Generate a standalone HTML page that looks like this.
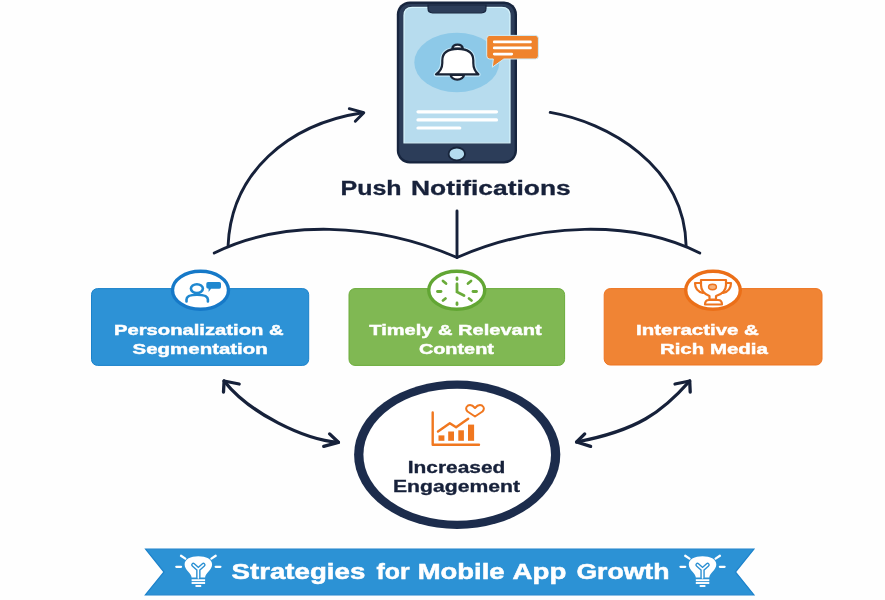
<!DOCTYPE html>
<html><head><meta charset="utf-8">
<style>
html,body{margin:0;padding:0;background:#fefefe;}
body{width:885px;height:600px;overflow:hidden;position:relative;}
svg{position:absolute;left:0;top:0;filter:blur(0.35px);}
text{font-family:"Liberation Sans",sans-serif;font-weight:700;}
</style></head>
<body>
<svg width="885" height="600" viewBox="0 0 885 600">
<!-- ===== PHONE ===== -->
<g id="phone">
  <rect x="396.8" y="1.5" width="120.2" height="162.1" rx="13" fill="#17253e"/>
  <rect x="399.2" y="3.9" width="115.4" height="157.3" rx="10.6" fill="#2c3d59"/>
  <path d="M403,143.8 V15.4 Q403,6.4 412,6.4 H502 Q511,6.4 511,15.4 V143.8 Z" fill="#1a2842"/>
  <path d="M404,142.8 V15.6 Q404,7.4 412.2,7.4 H501.8 Q510,7.4 510,15.6 V142.8 Z" fill="#b7dcee" stroke="#d6f4fd" stroke-width="1.3"/>
  <path d="M428,5 H486 V8.2 Q486,12.8 481.4,12.8 H432.6 Q428,12.8 428,8.2 Z" fill="#2c3d59" stroke="#18263f" stroke-width="1.2"/>
  <!-- bell ellipse -->
  <ellipse cx="456.8" cy="62.5" rx="42.5" ry="29.8" fill="#8dc9e8"/>
  <!-- bell -->
  <g stroke="#d4f1fc" stroke-width="4.5" fill="none" stroke-linejoin="round" opacity="0.8">
    <path d="M436,74.4 L478.4,74.4 Q473.3,70 473.3,63 V60.5 C473.3,52.5 467,48.9 457.8,48.9 C448.5,48.9 442.3,52.5 442.3,60.5 V63 Q442.3,70 436,74.4 Z"/>
  </g>
  <g stroke="#1a2436" stroke-width="2.2" fill="#ffffff" stroke-linejoin="round">
    <path d="M450.6,74.8 A6.7,4.8 0 0 0 464,74.8 Z"/>
    <path d="M452.2,48.6 A5.4,4.6 0 0 1 462.9,48.6 Z"/>
    <path d="M436,74.4 L478.4,74.4 Q473.3,70 473.3,63 V60.5 C473.3,52.5 467,48.9 457.8,48.9 C448.5,48.9 442.3,52.5 442.3,60.5 V63 Q442.3,70 436,74.4 Z"/>
  </g>
  <!-- text lines -->
  <g stroke="#ffffff" stroke-width="3.2" stroke-linecap="round">
    <line x1="418" y1="111.8" x2="496.5" y2="111.8"/>
    <line x1="418" y1="119.9" x2="496.5" y2="119.9"/>
    <line x1="418" y1="128" x2="459.8" y2="128"/>
  </g>
  <!-- home button -->
  <ellipse cx="456.8" cy="153.9" rx="8.2" ry="6.4" fill="#b4dbee" stroke="#17243a" stroke-width="1.8"/>
  <!-- chat bubble -->
  <path d="M489.8,35.4 H535.3 Q538.4,35.4 538.4,38.5 V55.9 Q538.4,59 535.3,59 H503.8 L492.3,67.2 L493.3,59 H489.8 Q486.7,59 486.7,55.9 V38.5 Q486.7,35.4 489.8,35.4 Z" fill="#ef832c" stroke="#cfeefb" stroke-width="1"/>
  <g stroke="#ffffff" stroke-width="2.6" stroke-linecap="round">
    <line x1="494.2" y1="41.9" x2="530.5" y2="41.9"/>
    <line x1="494.2" y1="47.9" x2="530.5" y2="47.9"/>
    <line x1="494.2" y1="54.1" x2="511.8" y2="54.1"/>
  </g>
</g>

<!-- ===== PUSH NOTIFICATIONS ===== -->
<g font-size="19.6" fill="#17213a" stroke="#17213a" stroke-width="0.3">
  <text id="p1" x="340.50" y="194.7" textLength="61.10" lengthAdjust="spacingAndGlyphs">Push</text>
  <text id="p2" x="411.00" y="194.7" textLength="159.70" lengthAdjust="spacingAndGlyphs">Notifications</text>
</g>

<!-- ===== CURVES ===== -->
<g fill="none" stroke="#16213a" stroke-width="2.9" stroke-linecap="round" stroke-linejoin="round">
  <line x1="457" y1="211" x2="457" y2="257"/>
  <path d="M214.25,253 C280.4,219.9 374.1,221.5 457,257.5"/>
  <path d="M699.75,253 C633.6,219.9 539.9,221.5 457,257.5"/>
  <path d="M228.1,245.5 C231.2,173.2 287.6,124.2 362.5,112.8"/>
  <path d="M349.3,108.7 L363.8,112.7 L355.3,121.3"/>
  <path d="M550.2,112.4 C606.5,122 684.5,164.7 686.1,245.8"/>
</g>
<g fill="none" stroke="#16213a" stroke-width="3.3" stroke-linecap="round" stroke-linejoin="round">
  <path d="M224.1,381 C249.1,413.3 304.8,439.9 338.4,442.3"/>
  <path d="M239.2,384 L224.1,381 L223.5,392"/>
  <path d="M329.6,433.9 L338.4,442.3 L323.7,446.4"/>
  <path d="M689.7,381 C662.3,412 637.7,430.4 576.6,442"/>
  <path d="M675,384 L689.7,381 L690.2,392"/>
  <path d="M584.7,433.9 L576.6,442 L590.6,446.4"/>
</g>

<!-- ===== BOXES ===== -->
<rect x="91.5" y="288.6" width="217.2" height="76.8" rx="6" fill="#2d92d6" stroke="#1b82cb" stroke-width="1"/>
<rect x="349" y="288.6" width="215.6" height="76.8" rx="6" fill="#80b853" stroke="#6cad3c" stroke-width="1"/>
<rect x="604.2" y="288.6" width="217.8" height="76.4" rx="6" fill="#f08434" stroke="#ee7420" stroke-width="1"/>

<!-- icon circles -->
<ellipse cx="200.5" cy="290.25" rx="28" ry="19" fill="#ffffff" stroke="#1679c8" stroke-width="3.4"/>
<ellipse cx="456.75" cy="290.25" rx="28" ry="19" fill="#ffffff" stroke="#62a634" stroke-width="3.4"/>
<ellipse cx="713" cy="290.25" rx="27.3" ry="19" fill="#ffffff" stroke="#eb6f18" stroke-width="3.4"/>

<!-- person icon -->
<g fill="none" stroke="#1f88d0" stroke-width="2.6" stroke-linecap="round">
  <ellipse cx="196.9" cy="288.6" rx="6" ry="4.4"/>
  <path d="M186.5,301.5 V299.5 Q186.5,294.8 197,294.8 Q207.9,294.8 207.9,299.5 V301.5"/>
</g>
<path d="M208,282 H219.3 Q221,282 221,283.7 V287 Q221,288.7 219.3,288.7 H211 L208.6,292 L208.6,288.7 Q206.3,288.7 206.3,287 V283.7 Q206.3,282 208,282 Z" fill="#1f88d0"/>

<!-- clock icon -->
<g stroke="#6aab3a" stroke-width="2.8" stroke-linecap="round" fill="none">
  <line x1="457" y1="278" x2="457" y2="279.5"/>
  <line x1="457" y1="303" x2="457" y2="304.5"/>
  <line x1="437.5" y1="291.5" x2="441" y2="291.5"/>
  <line x1="473" y1="291.5" x2="476.5" y2="291.5"/>
  <line x1="443" y1="281" x2="446" y2="283.5"/>
  <line x1="468" y1="283.5" x2="471" y2="281"/>
  <line x1="443" y1="300.5" x2="445.5" y2="298.5"/>
  <line x1="469" y1="298.5" x2="471.5" y2="300.5"/>
  <path d="M457,284 V292 L464,295.5"/>
</g>

<!-- trophy icon -->
<g stroke="#ee741e" stroke-width="2.2" fill="none" stroke-linejoin="round" stroke-linecap="round">
  <path d="M701,280 H726 V285 Q726,293 716,296 V299.5 H709.5 V296 Q701,293 701,285 Z"/>
  <path d="M701,283 H695 Q695,291 703,293"/>
  <path d="M726,283 H731 Q731,291 723,293"/>
  <path d="M705,304.5 Q705,300 709,300 H718 Q722,300 722,304.5 Z"/>
  <ellipse cx="712.5" cy="287" rx="3.9" ry="2.7" fill="#f6b27c" stroke-width="1.5"/>
</g>

<!-- box texts -->
<g fill="#ffffff" stroke="#ffffff" stroke-width="0.45">
  <text id="t2" x="113.9" y="335.2" font-size="15.4" textLength="169.8" lengthAdjust="spacingAndGlyphs">Personalization &amp;</text>
  <text id="t3" x="132.6" y="353.5" font-size="15.4" textLength="135.2" lengthAdjust="spacingAndGlyphs">Segmentation</text>
  <text id="t4" x="369.3" y="335.2" font-size="15.4" textLength="172.4" lengthAdjust="spacingAndGlyphs">Timely &amp; Relevant</text>
  <text id="t5" x="418.9" y="353.5" font-size="15.4" textLength="75" lengthAdjust="spacingAndGlyphs">Content</text>
  <text id="t6" x="636.1" y="335.2" font-size="15.4" textLength="122.8" lengthAdjust="spacingAndGlyphs">Interactive &amp;</text>
  <text id="t7" x="659.9" y="353.5" font-size="15.3" textLength="108" lengthAdjust="spacingAndGlyphs">Rich Media</text>
</g>

<!-- ===== ENGAGEMENT CIRCLE ===== -->
<ellipse cx="457.2" cy="454.8" rx="103.1" ry="74.2" fill="#1c2c4c"/>
<ellipse cx="457.2" cy="454.75" rx="93.8" ry="66" fill="#ffffff"/>
<g stroke="#f0771f" stroke-width="2.4" fill="none" stroke-linecap="round" stroke-linejoin="round">
  <path d="M432.7,412.4 V444.8 H479"/>
  <path d="M438,431.5 L449.8,423.2 L456.1,427.3 L468.2,418.7"/>
  <path d="M475,408 Q471.5,403.8 468,405.5 Q464.5,408 467.5,411.5 L475,416.5 L482.5,411.5 Q485.5,408 482,405.5 Q478.5,403.8 475,408 Z" stroke-width="2"/>
</g>
<g fill="#f0771f">
  <rect x="438.5" y="435.4" width="5.9" height="5.4"/>
  <rect x="448.2" y="431.5" width="5.8" height="9.3"/>
  <rect x="458.3" y="430.3" width="5.6" height="10.5"/>
  <rect x="468" y="424.6" width="6.1" height="16.2"/>
</g>
<text id="t8" x="407.8" y="472.7" font-size="15.6" fill="#17213a" stroke="#17213a" stroke-width="0.3" textLength="97.6" lengthAdjust="spacingAndGlyphs">Increased</text>
<text id="t9" x="393" y="492.3" font-size="15.6" fill="#17213a" stroke="#17213a" stroke-width="0.3" textLength="127" lengthAdjust="spacingAndGlyphs">Engagement</text>

<!-- ===== RIBBON ===== -->
<path d="M145.6,549.2 H753.9 L735.4,572 L753.9,594.8 H145.4 L164,572 Z" fill="#2c92d5" stroke="#1c82cb" stroke-width="1.2" stroke-linejoin="miter"/>
<g fill="#ffffff" stroke="#ffffff" stroke-width="0.5" font-size="22">
  <text id="w1" x="231.60" y="579" textLength="133.70" lengthAdjust="spacingAndGlyphs">Strategies</text>
  <text id="w2" x="376.50" y="579" textLength="33.10" lengthAdjust="spacingAndGlyphs">for</text>
  <text id="w3" x="417.70" y="579" textLength="86.90" lengthAdjust="spacingAndGlyphs">Mobile</text>
  <text id="w4" x="512.50" y="579" textLength="53.80" lengthAdjust="spacingAndGlyphs">App</text>
  <text id="w5" x="576.40" y="579" textLength="93.10" lengthAdjust="spacingAndGlyphs">Growth</text>
</g>

<!-- bulbs -->
<g id="bulbL">
  <g stroke="#ffffff" stroke-width="2.3" stroke-linecap="round" fill="none">
    <line x1="176.3" y1="566.8" x2="181" y2="566.8"/>
    <line x1="215.7" y1="566.8" x2="220.4" y2="566.8"/>
    <line x1="181" y1="555.8" x2="185.3" y2="558.6"/>
    <line x1="215.7" y1="555.8" x2="211.4" y2="558.6"/>
  </g>
  <path d="M191.6,577.6 C191.6,573.2 184.6,570.2 184.6,564.6 C184.6,559 190.6,556.3 198.35,556.3 C206.1,556.3 212.1,559 212.1,564.6 C212.1,570.2 205.1,573.2 205.1,577.6 Z" fill="#ffffff"/>
  <path d="M193.3,564.9 L198.35,569.4 L203.4,564.9 M198.35,569.4 V577.5" stroke="#2b90d3" stroke-width="4.4" fill="none" stroke-linecap="round" stroke-linejoin="round"/>
  <path d="M193.3,564.9 L198.35,569.4 L203.4,564.9 M198.35,569.4 V578" stroke="#ffffff" stroke-width="1.6" fill="none" stroke-linecap="round" stroke-linejoin="round"/>
  <g stroke="#ffffff" stroke-width="1.9">
    <line x1="191.6" y1="580.2" x2="205.1" y2="580.2"/>
    <line x1="191.6" y1="583" x2="205.1" y2="583"/>
    <line x1="195.5" y1="586" x2="201.2" y2="586"/>
  </g>
</g>
<g transform="translate(504.2,0)">
  <g stroke="#ffffff" stroke-width="2.3" stroke-linecap="round" fill="none">
    <line x1="176.3" y1="566.8" x2="181" y2="566.8"/>
    <line x1="215.7" y1="566.8" x2="220.4" y2="566.8"/>
    <line x1="181" y1="555.8" x2="185.3" y2="558.6"/>
    <line x1="215.7" y1="555.8" x2="211.4" y2="558.6"/>
  </g>
  <path d="M191.6,577.6 C191.6,573.2 184.6,570.2 184.6,564.6 C184.6,559 190.6,556.3 198.35,556.3 C206.1,556.3 212.1,559 212.1,564.6 C212.1,570.2 205.1,573.2 205.1,577.6 Z" fill="#ffffff"/>
  <path d="M193.3,564.9 L198.35,569.4 L203.4,564.9 M198.35,569.4 V577.5" stroke="#2b90d3" stroke-width="4.4" fill="none" stroke-linecap="round" stroke-linejoin="round"/>
  <path d="M193.3,564.9 L198.35,569.4 L203.4,564.9 M198.35,569.4 V578" stroke="#ffffff" stroke-width="1.6" fill="none" stroke-linecap="round" stroke-linejoin="round"/>
  <g stroke="#ffffff" stroke-width="1.9">
    <line x1="191.6" y1="580.2" x2="205.1" y2="580.2"/>
    <line x1="191.6" y1="583" x2="205.1" y2="583"/>
    <line x1="195.5" y1="586" x2="201.2" y2="586"/>
  </g>
</g>

</svg>
</body></html>
